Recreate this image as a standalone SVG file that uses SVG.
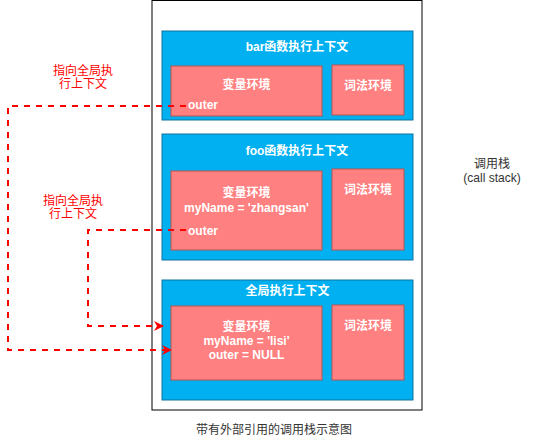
<svg xmlns="http://www.w3.org/2000/svg" width="533" height="444" viewBox="0 0 533 444">
<style>
.ctx{fill:#00B0F0;stroke:#10739E;stroke-width:1}
.env{fill:#FF8080;stroke:#B85450;stroke-width:1}
.w{font-family:"Liberation Sans","Noto Sans CJK SC",Arial,sans-serif;font-size:12px;fill:#FFFFFF;font-weight:bold;text-anchor:middle}
.wl{font-family:"Liberation Sans","Noto Sans CJK SC",Arial,sans-serif;font-size:12px;fill:#FFFFFF;font-weight:bold}
.b{font-family:"Liberation Sans","Noto Sans CJK SC",Arial,sans-serif;font-size:12px;fill:#333333;text-anchor:middle}
.r{font-family:"Liberation Sans","Noto Sans CJK SC",Arial,sans-serif;font-size:12px;fill:#FF0000;text-anchor:middle}
.dash{fill:none;stroke:#FF0000;stroke-width:2;stroke-dasharray:6 6}
</style>
<defs>
<marker id="ah" markerWidth="10" markerHeight="10" refX="9" refY="5" orient="auto" markerUnits="userSpaceOnUse">
<path d="M0,0 L10,5 L0,10 L3,5 Z" fill="#FF0000"/>
</marker>
</defs>
<rect width="533" height="444" fill="#FFFFFF"/>
<g id="stack">
<rect x="152" y="0.5" width="270" height="409.5" fill="#FFFFFF" stroke="#000000" stroke-width="1"/>
</g>
<g id="bar-ctx">
<rect class="ctx" x="162" y="31" width="251" height="89"/>
<text class="w" x="297" y="51">bar函数执行上下文</text>
</g>
<g id="bar-var">
<rect class="env" x="171" y="66" width="151" height="50"/>
<text class="w" x="246.5" y="89">变量环境</text>
<text class="wl" x="188" y="109">outer</text>
</g>
<g id="bar-lex">
<rect class="env" x="332" y="65" width="72" height="50"/>
<text class="w" x="368" y="90">词法环境</text>
</g>
<g id="foo-ctx">
<rect class="ctx" x="162" y="134" width="251" height="126"/>
<text class="w" x="297" y="155">foo函数执行上下文</text>
</g>
<g id="foo-var">
<rect class="env" x="171" y="171" width="151" height="79"/>
<text class="w" x="246.5" y="197">变量环境</text>
<text class="w" x="246.5" y="212">myName = 'zhangsan'</text>
<text class="wl" x="188" y="235">outer</text>
</g>
<g id="foo-lex">
<rect class="env" x="332" y="169" width="72" height="81"/>
<text class="w" x="368" y="194">词法环境</text>
</g>
<g id="global-ctx">
<rect class="ctx" x="162" y="280" width="251" height="120"/>
<text class="w" x="287.5" y="295">全局执行上下文</text>
</g>
<g id="global-var">
<rect class="env" x="171" y="306" width="151" height="74"/>
<text class="w" x="246.5" y="331">变量环境</text>
<text class="w" x="246.5" y="345">myName = 'lisi'</text>
<text class="w" x="246.5" y="359">outer = NULL</text>
</g>
<g id="global-lex">
<rect class="env" x="332" y="305" width="72" height="75"/>
<text class="w" x="368" y="330">词法环境</text>
</g>
<g id="label-stack">
<text class="b" x="492" y="168">调用栈</text>
<text class="b" x="492" y="182">(call stack)</text>
</g>
<g id="caption">
<text class="b" x="274" y="434">带有外部引用的调用栈示意图</text>
</g>
<g id="label1">
<text class="r" x="83" y="75">指向全局执</text>
<text class="r" x="83" y="88">行上下文</text>
</g>
<g id="label2">
<text class="r" x="73" y="205">指向全局执</text>
<text class="r" x="73" y="218">行上下文</text>
</g>
<g id="connectors">
<path class="dash" d="M186,106 L8,106 L8,350 L171,350" marker-end="url(#ah)"/>
<path class="dash" d="M186,230 L88,230 L88,326 L163,326" marker-end="url(#ah)"/>
</g>
</svg>
